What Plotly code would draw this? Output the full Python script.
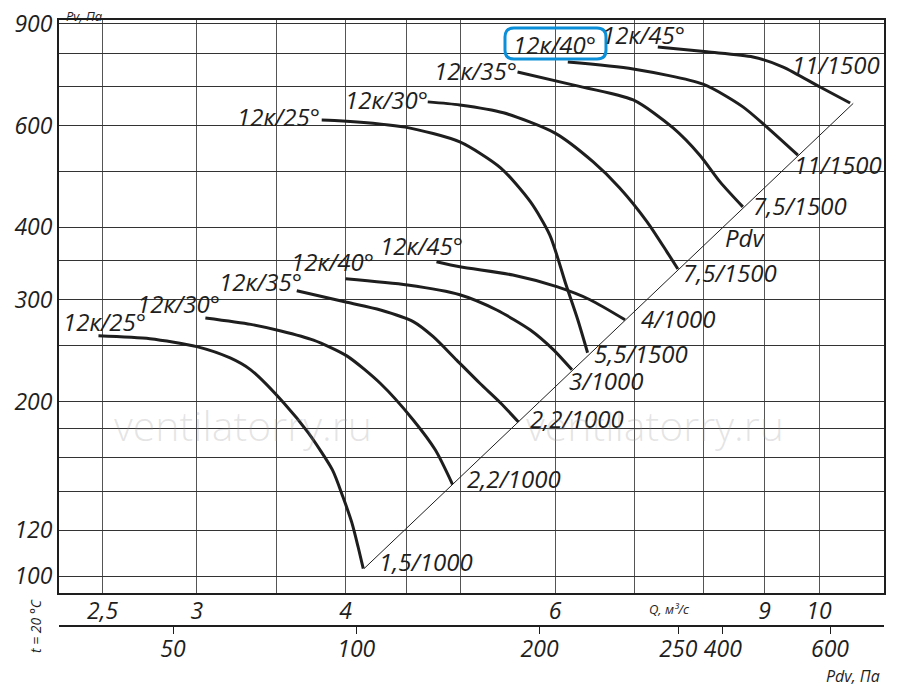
import math
import plotly.graph_objects as go

# fan curves, lower group (Q in m3/s, Pv in Pa)
q_low_25 = [2.48, 2.74, 3.00, 3.20, 3.33, 3.55, 3.72, 3.90, 3.98, 4.05, 4.10, 4.14]
p_low_25 = [260, 257, 249, 238, 227, 199, 177, 152.5, 137, 123.5, 112, 103]
q_low_30 = [3.05, 3.33, 3.53, 3.76, 4.01, 4.28, 4.56, 4.76, 4.92]
p_low_30 = [279, 272, 265, 255.5, 240, 215, 186, 165, 144]
q_low_35 = [3.64, 4.01, 4.28, 4.56, 4.74, 4.96, 5.19, 5.40, 5.59]
p_low_35 = [311, 297, 288, 275, 259, 236, 215, 199, 184.5]
q_low_40 = [4.00, 4.51, 4.99, 5.36, 5.72, 5.98, 6.20]
p_low_40 = [326, 318, 306, 288, 266, 246, 227]
q_low_45 = [4.77, 4.99, 5.53, 6.02, 6.42, 6.87]
p_low_45 = [349, 342, 331, 316, 300, 277]

# fan curves, upper group
q_up_25 = [3.82, 3.98, 4.49, 4.99, 5.40, 5.72, 5.94, 6.13, 6.27, 6.39]
p_up_25 = [613, 611, 596, 562, 507, 443, 388, 318, 277, 243]
q_up_30 = [4.69, 4.99, 5.43, 6.00, 6.46, 6.80, 7.17, 7.45, 7.61]
p_up_30 = [659, 651, 631, 582, 519, 468, 409, 363, 339]
q_up_35 = [5.58, 6.21, 6.98, 7.54, 7.94, 8.26, 8.63]
p_up_35 = [742, 705, 664, 594, 533, 479, 434]
q_up_40 = [6.15, 6.98, 7.99, 8.63, 9.04, 9.60]
p_up_40 = [772, 751, 707, 646, 596, 533]
q_up_45 = [7.32, 8.05, 8.80, 9.33, 10.02, 10.62]
p_up_45 = [820, 804, 788, 757, 699, 656]

curve_names = ["12к/25°", "12к/30°", "12к/35°", "12к/40°", "12к/45°"] * 2
motor_labels = ["1,5/1000", "2,2/1000", "2,2/1000", "3/1000", "4/1000",
                "5,5/1500", "7,5/1500", "7,5/1500", "11/1500", "11/1500"]

# dynamic pressure line (Pdv = Pv)
pdv_line = [103, 655]

q_grid = [2.5, 3, 3.5, 4, 4.5, 5, 6, 7, 8, 9, 10]
q_text = ["2,5", "3", "", "4", "", "", "6", "", "", "9", "10"]
p_grid = [100, 120, 140, 160, 180, 200, 250, 300, 350, 400, 500, 600, 700, 800, 900]
p_text = ["100", "120", "", "", "", "200", "", "300", "", "400", "", "600", "", "", "900"]
pdv_ticks = [50, 100, 200, 338, 400, 600]
pdv_text = ["50", "100", "200", "250", "400", "600"]

curves = [(q_low_25, p_low_25), (q_low_30, p_low_30), (q_low_35, p_low_35),
          (q_low_40, p_low_40), (q_low_45, p_low_45),
          (q_up_25, p_up_25), (q_up_30, p_up_30), (q_up_35, p_up_35),
          (q_up_40, p_up_40), (q_up_45, p_up_45)]

# label offsets in px (x right, y up) from curve start / end
start_shift = [(6, 14), (-27, 15), (-36, 9), (-13, 17), (-15, 16),
               (-43, 4), (-41, 2), (-42, 2), (-13, 18), (-14, 12)]
end_shift = [(63, 7), (62, 6), (59, 3), (35, -11), (53, 1),
             (53, -1), (52, -3), (57, 1), (40, -9), (-14, 39)]

INK = "#1e1e1e"
FONT = "Open Sans"
lbl_font = dict(family=FONT, size=24, color=INK, style="italic")
tick_font = dict(family=FONT, size=23, color=INK, style="italic")

fig = go.Figure()
for q, p in curves:
    fig.add_trace(go.Scatter(x=q, y=p, mode="lines",
                             line=dict(color=INK, width=3, shape="spline", smoothing=0.7),
                             showlegend=False, hoverinfo="skip"))

fig.add_trace(go.Scatter(x=pdv_line, y=pdv_line, xaxis="x2", yaxis="y", mode="lines",
                         line=dict(color=INK, width=1), showlegend=False, hoverinfo="skip"))

annotations = []
for i, (q, p) in enumerate(curves):
    sx, sy = start_shift[i]
    ex, ey = end_shift[i]
    annotations.append(dict(x=math.log10(q[0]), y=math.log10(p[0]), text=curve_names[i],
                            showarrow=False, xshift=sx, yshift=sy, font=lbl_font))
    annotations.append(dict(x=math.log10(q[-1]), y=math.log10(p[-1]), text=motor_labels[i],
                            showarrow=False, xshift=ex, yshift=ey, font=lbl_font))


def note(x, y, text, size, **kw):
    return dict(xref="paper", yref="paper", x=x, y=y, text=text, showarrow=False,
                xanchor="center", yanchor="middle",
                font=dict(family=FONT, size=size, color=INK, style="italic"), **kw)


annotations += [
    note(0.8315, 0.6403, "Pdv", 24),
    note(0.0315, 1.006, "Pv, Па", 13),
    note(-0.029, 0.0, "t = 20 °C", 14, textangle=-90),
    note(0.739, 0.028, "Q, м³/с", 13),
    note(0.9624, -0.0825, "Pdv, Па", 16),
]
for wx in [0.223, 0.7224]:
    annotations.append(dict(xref="paper", yref="paper", x=wx, y=0.3317, text="ventilatorry.ru",
                            showarrow=False, xanchor="center", yanchor="middle",
                            font=dict(family=FONT, size=41, color="rgba(150,150,150,0.25)", weight=300)))

# rounded highlight box around the upper 12к/40° label
x0, x1, y0, y1, rx, ry = 0.5406, 0.6630, 0.9356, 0.9868, 0.0109, 0.0149
box = (f"M{x0+rx},{y1} L{x1-rx},{y1} Q{x1},{y1} {x1},{y1-ry} L{x1},{y0+ry} "
       f"Q{x1},{y0} {x1-rx},{y0} L{x0+rx},{y0} Q{x0},{y0} {x0},{y0+ry} "
       f"L{x0},{y1-ry} Q{x0},{y1} {x0+rx},{y1} Z")

# the page puts the figure 8 px in from the top-left corner
fig.update_layout(
    width=900, height=687,
    margin=dict(l=51, r=24, t=12, b=69, autoexpand=False),
    paper_bgcolor="white", plot_bgcolor="white",
    annotations=annotations,
    shapes=[dict(type="path", xref="paper", yref="paper", path=box,
                 line=dict(color="#0a8fd8", width=3))],
    xaxis=dict(type="log", range=[0.3613, 1.0546], tickvals=q_grid, ticktext=q_text,
               showgrid=True, gridcolor="#555", gridwidth=1, zeroline=False, automargin=False,
               showline=True, linecolor=INK, linewidth=2, mirror=True, ticks="",
               ticklabelstandoff=-4, ticklabeloverflow="allow", tickfont=tick_font, anchor="y"),
    xaxis2=dict(type="log", range=[1.5117, 2.8668], overlaying="x", anchor="free", position=0,
                side="bottom", tickvals=pdv_ticks, ticktext=pdv_text, showgrid=False,
                automargin=False, ticklabelstandoff=-5, ticklabeloverflow="allow",
                showline=True, linecolor=INK, linewidth=2, ticks="outside", ticklen=7,
                tickcolor=INK, tickfont=tick_font),
    yaxis=dict(type="log", range=[1.97064, 2.96028], domain=[0.05446, 1], tickvals=p_grid,
               ticktext=p_text, showgrid=True, gridcolor="#333", gridwidth=1, zeroline=False,
               automargin=False, ticklabeloverflow="allow",
               showline=True, linecolor=INK, linewidth=2, mirror=True, ticks="",
               tickfont=tick_font),
)

fig.write_html("out.html")
